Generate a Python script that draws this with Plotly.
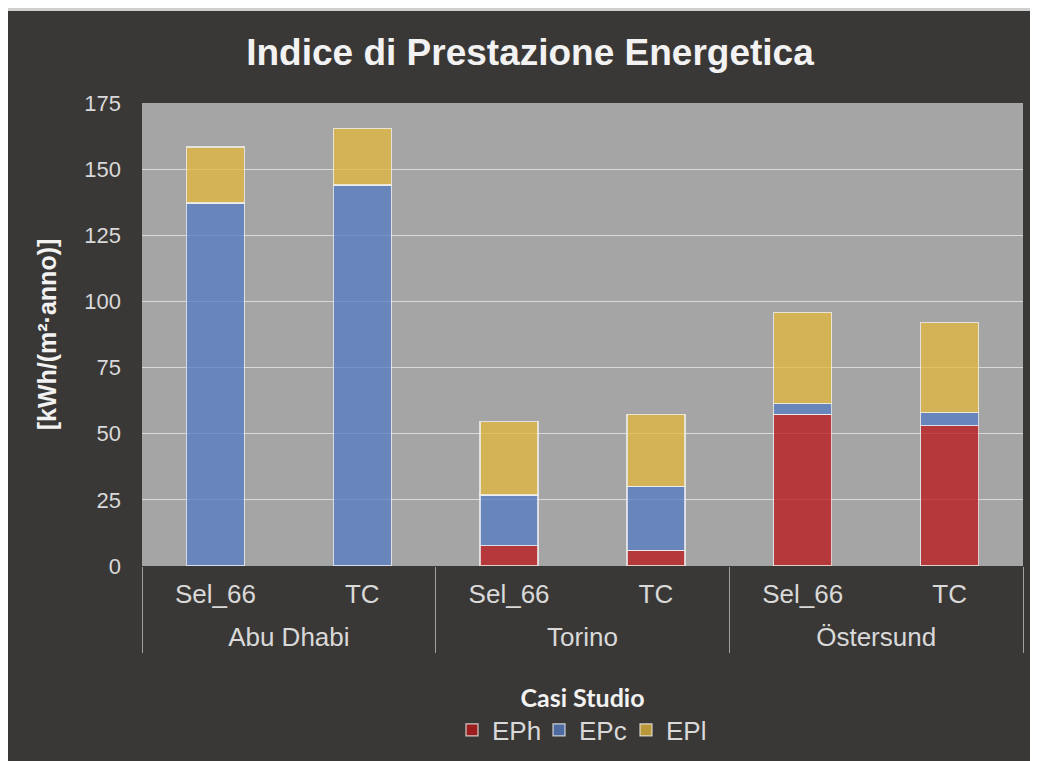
import plotly.graph_objects as go

locations = ["Abu Dhabi", "Abu Dhabi", "Torino", "Torino", "Östersund", "Östersund"]
cases = ["Sel_66", "TC", "Sel_66", "TC", "Sel_66", "TC"]

eph = [0.0, 0.0, 7.7, 6.0, 57.4, 53.0]
epc = [137.2, 144.0, 19.1, 24.2, 4.0, 4.9]
epl = [21.2, 21.5, 27.7, 27.2, 34.5, 34.1]

series = [
    ("EPh", eph, "rgba(187,21,23,0.75)"),
    ("EPc", epc, "rgba(84,124,196,0.75)"),
    ("EPl", epl, "rgba(228,184,60,0.75)"),
]

# group layout derived from the category list (index positions on the category axis)
groups = list(dict.fromkeys(locations))
g_idx = [[i for i, l in enumerate(locations) if l == g] for g in groups]
g_centers = [sum(ix) / len(ix) for ix in g_idx]
g_bounds = [g_idx[0][0] - 0.5] + [ix[-1] + 0.5 for ix in g_idx]
xr = [-0.5, len(cases) - 0.5]

fig = go.Figure()
for name, vals, col in series:
    fig.add_trace(go.Bar(
        x=[locations, cases], y=vals, name=name,
        marker=dict(color=col, line=dict(color="rgba(240,240,240,0.8)", width=1.2)),
    ))

# empty helper traces so the label axes (case level / location level) are drawn
for ax in ("x2", "x3"):
    fig.add_trace(go.Scatter(x=[], y=[], xaxis=ax, yaxis="y", mode="markers",
                             showlegend=False, hoverinfo="skip"))

# page has an 8px body margin, so the figure is sized to fit the window
W, H = 1030, 753
L, R, T, B = 134, 15, 95, 195
pw, ph = W - L - R, H - T - B

def px(x):
    return (x - L) / pw

def py(y):
    return (H - B - y) / ph

xfont = dict(size=26, color="#D9D9D9", family="Liberation Sans, Arial")

fig.update_layout(
    width=W, height=H,
    barmode="stack", bargap=0.605,
    paper_bgcolor="#3A3836", plot_bgcolor="#A5A5A5",
    margin=dict(l=L, r=R, t=T, b=B, autoexpand=False),
    font=dict(family="Liberation Sans, Arial", color="#D9D9D9", size=22),
    title=dict(text="<b>Indice di Prestazione Energetica</b>",
               font=dict(size=37, color="#F2F2F2", family="Liberation Sans, Arial"),
               x=px(530 - 8), xref="paper", xanchor="center",
               y=1 - 44 / H, yanchor="middle"),
    yaxis=dict(range=[0, 175], dtick=25, showgrid=True, gridcolor="#D9D9D9", gridwidth=1,
               zeroline=False, ticklabelstandoff=20, automargin=False,
               tickfont=dict(size=22, color="#D9D9D9"),
               title=dict(text="<b>[kWh/(m²·anno)]</b>", font=dict(size=25, color="#F2F2F2"),
                          standoff=20)),
    xaxis=dict(type="multicategory", range=xr, showgrid=False, showline=False,
               showticklabels=False, showdividers=False, automargin=False),
    xaxis2=dict(overlaying="x", anchor="y", side="bottom", type="linear", range=xr,
                tickmode="array", tickvals=list(range(len(cases))), ticktext=cases,
                showgrid=False, zeroline=False, showline=False, ticks="",
                ticklabelstandoff=10, tickfont=xfont, automargin=False),
    xaxis3=dict(overlaying="x", anchor="y", side="bottom", type="linear", range=xr,
                tickmode="array", tickvals=g_centers, ticktext=groups,
                showgrid=False, zeroline=False, showline=False, ticks="",
                ticklabelstandoff=53, tickfont=xfont, automargin=False,
                minor=dict(tickmode="array", tickvals=g_bounds, ticks="outside",
                           ticklen=86, tickwidth=1, tickcolor="#A0A0A0", showgrid=False)),
    legend=dict(orientation="h", x=0.5, xanchor="center", y=py(666), yanchor="top",
                title=dict(text="<b>Casi Studio</b>", side="top center",
                           font=dict(family="Lato, Open Sans", size=25, color="#F2F2F2")),
                font=dict(size=26, color="#D9D9D9"), itemwidth=30,
                entrywidth=42, entrywidthmode="pixels",
                bgcolor="rgba(0,0,0,0)", traceorder="normal"),
    showlegend=True,
)

# thin light border line along the top edge of the chart frame
fig.add_shape(type="rect", xref="paper", yref="paper",
              x0=px(0), x1=px(W), y0=py(3), y1=py(0),
              fillcolor="#CFCFCF", line=dict(width=0), layer="below")

fig.write_html("out.html")
